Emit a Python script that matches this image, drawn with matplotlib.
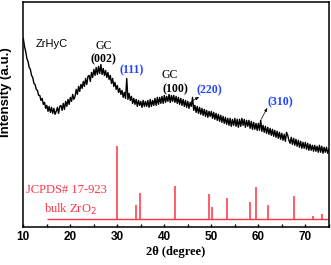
import numpy as np
import matplotlib
matplotlib.use("Agg")
import matplotlib.pyplot as plt
from matplotlib.ticker import MultipleLocator

# ZrHyC XRD scan, every 0.25 deg (intensity in a.u.)
two_theta = np.arange(10.0, 75.001, 0.25)
zrhyc = [
    189, 181, 176, 169,  166, 160, 158, 152,  150, 144, 143, 138,  137, 132, 132, 127,
    129, 123, 125, 119,  122, 116, 121, 115,  120, 114, 119, 113,  116, 120, 114, 121,
    122, 117, 124, 118,  126, 121, 128, 123,  130, 126, 133, 128,  131, 138, 133, 141,
    136, 143, 139, 146,  141, 149, 143, 151,  152, 146, 155, 150,  158, 152, 160, 153,
    161, 154, 163, 153,  159, 152, 157, 150,  155, 148, 152, 144,  149, 141, 145, 138,
    142, 135, 139, 133,  137, 130, 135, 129,  149, 128, 134, 127,  131, 124, 129, 123,
    128, 121, 127, 122,  126, 120, 127, 121,  126, 121, 127, 120,  128, 121, 127, 122,
    129, 122, 130, 123,  130, 124, 131, 124,  132, 125, 131, 126,  133, 125, 132, 126,
    132, 125, 131, 124,  130, 123, 129, 122,  128, 121, 127, 120,  126, 119, 125, 121,
    130, 117, 122, 115,  121, 114, 120, 113,  119, 112, 118, 111,  117, 110, 116, 111,
    116, 109, 115, 108,  114, 107, 113, 106,  112, 105, 111, 104,  110, 103, 109, 102,
    109, 101, 108, 102,  109, 101, 108, 100,  108, 101, 109, 102,  108, 100, 107, 101,
    107, 99, 106, 98,    105, 98, 104, 97,    104, 97, 107, 96,    102, 95, 101, 94,
    100, 93, 99, 92,     98, 91, 97, 90,      96, 89, 95, 88,      94, 87, 93, 86,
    95, 92, 87, 84,      90, 83, 89, 82,      88, 81, 87, 80,      86, 79, 85, 79,
    85, 78, 84, 77,      83, 77, 82, 76,      82, 76, 81, 75,      82, 75, 81, 74,
    80, 75, 80, 74,      78,
]

# JCPDS 17-923 reference lines (bulk ZrO2)
ref_pos = [29.9, 34.0, 34.8, 42.3, 49.6, 50.1, 53.3, 58.3, 59.5, 62.0, 67.6, 71.6, 73.6]
ref_height = [81, 22, 33.7, 41, 32.7, 20.3, 29.3, 25, 39.7, 22.3, 31.3, 11, 13.3]
ref_base = 8

fig = plt.figure(figsize=(3.31, 2.65), dpi=100)
ax = fig.add_axes([0.0705, 0.143, 0.923, 0.851])

ax.plot(two_theta, zrhyc, color="black", lw=1.0)
ax.hlines(ref_base, 15, 75, color="#ff3344", lw=1.0)
ax.vlines(ref_pos, ref_base, ref_height, color="#ff3344", lw=1.1)

serif = "Liberation Serif"
sans = "Liberation Sans"
blue = "#2244ff"
red = "#ff3344"

ax.text(16.0, 183, "ZrHyC", fontsize=8, family=sans, ha="center", va="center")
ax.text(27.2, 181, "GC", fontsize=8.5, family=serif, ha="center", va="center")
ax.text(27.0, 168.5, "(002)", fontsize=8.5, family=serif, weight="bold", ha="center", va="center")
ax.text(33.1, 157, "(111)", fontsize=8.5, family=serif, weight="bold", color=blue, ha="center", va="center")
ax.text(41.2, 152, "GC", fontsize=8.5, family=serif, ha="center", va="center")
ax.text(42.3, 138.5, "(100)", fontsize=8.5, family=serif, weight="bold", ha="center", va="center")
ax.text(49.5, 137.5, "(220)", fontsize=8.5, family=serif, weight="bold", color=blue, ha="center", va="center")
ax.text(64.7, 125.5, "(310)", fontsize=8.5, family=serif, weight="bold", color=blue, ha="center", va="center")
arrow = dict(arrowstyle="-|>,head_length=0.2,head_width=0.08", color="black", lw=0.5,
             shrinkA=0, shrinkB=0)
ax.annotate("", xy=(47.4, 130.5), xytext=(45.8, 126), arrowprops=arrow)
ax.annotate("", xy=(61.9, 119.5), xytext=(60.6, 108), arrowprops=arrow)

ax.text(19.1, 37, "JCPDS# 17-923", fontsize=9, family=serif, color=red, ha="center", va="center")
ax.text(20.1, 17.5, "bulk ZrO$_2$", fontsize=9, family=serif, color=red, ha="center", va="center")

ax.set_xlim(10, 75)
ax.set_ylim(0, 226)
ax.xaxis.set_major_locator(MultipleLocator(10))
ax.xaxis.set_minor_locator(MultipleLocator(5))
ax.set_yticks([])
ax.tick_params(axis="x", which="both", direction="in", length=2.5, width=1, pad=3)
for lab in ax.get_xticklabels():
    lab.set_family(sans)
    lab.set_weight("bold")
    lab.set_fontsize(8.5)
for s in ax.spines.values():
    s.set_linewidth(1.1)

ax.set_xlabel("2θ (degree)", family=serif, weight="bold", fontsize=9, labelpad=2)
ax.set_ylabel("Intensity (a.u.)", family=sans, weight="bold", fontsize=9.5)
ax.yaxis.set_label_coords(-0.036, 0.6)

fig.savefig("out.png", dpi=100)
